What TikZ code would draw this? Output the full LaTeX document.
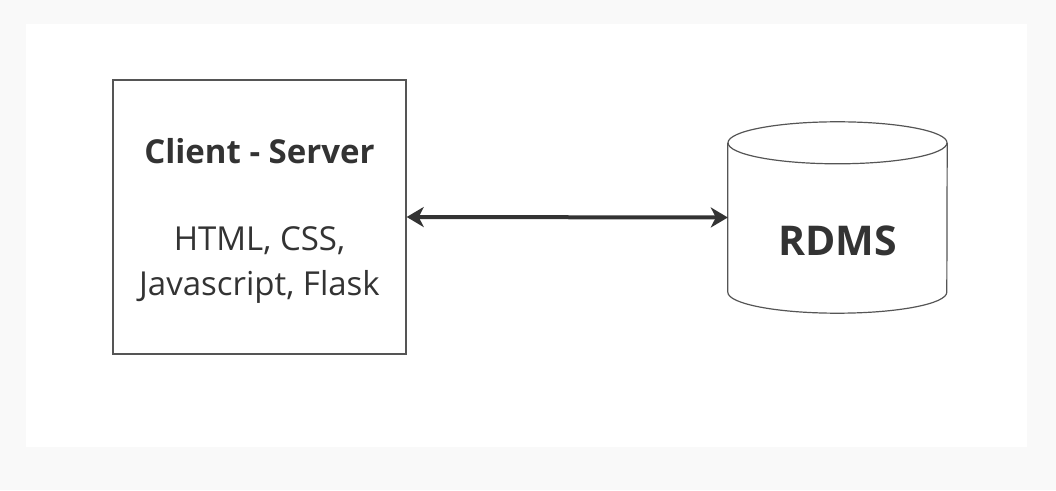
\documentclass[tikz,border=0pt]{standalone}
\usepackage{fontspec}
\setmainfont{Open Sans}
\usetikzlibrary{arrows.meta,positioning}
\definecolor{inkgray}{HTML}{333333}
\definecolor{linegray}{HTML}{555555}
\definecolor{bggray}{HTML}{F9F9F9}
\tikzset{
  appbox/.style={draw=linegray, line width=1.4pt, minimum width=293pt, minimum height=274pt,
    text=inkgray, align=center, inner sep=0pt},
  dbbody/.style={minimum width=219pt, minimum height=149pt, inner sep=0pt},
  link/.style={inkgray, line width=4pt, {Stealth[length=17pt,width=20pt,inset=5pt]}-{Stealth[length=17pt,width=20pt,inset=5pt]}},
}
\begin{document}
\begin{tikzpicture}[x=1pt, y=1pt]

      % background and canvas
      \fill [bggray] (0,0) rectangle (1056,490);
      \fill [white] (26,43) rectangle (1027,466);
      \useasboundingbox (0,0) rectangle (1056,490);

      % client side
      \node [appbox] (app) at (259.5,273) {};
      \node [inkgray, font=\fontsize{33}{40}\selectfont\bfseries] (apptitle) at (259.5,339) {Client - Server};
      \node [inkgray, align=center, font=\fontsize{33}{45}\selectfont] (appstack) at (259.5,225) {HTML, CSS,\\Javascript, Flask};

      % database cylinder
      \node [dbbody] (db) at (837.5,272.5) {};
      \begin{scope}[draw=linegray, line width=1.2pt]
      \draw (db.north west) -- (db.south west) arc[start angle=180, end angle=360, x radius=109.5, y radius=21] -- (db.north east);
      \draw (db.north) ellipse [x radius=109.5, y radius=21];
      \end{scope}
      \node [inkgray, font=\fontsize{41}{48}\selectfont\bfseries] (dbname) at (837.5,249) {RDMS};

      % connection
      \draw [link] (app.east) -- (db.west);

\end{tikzpicture}
\end{document}
